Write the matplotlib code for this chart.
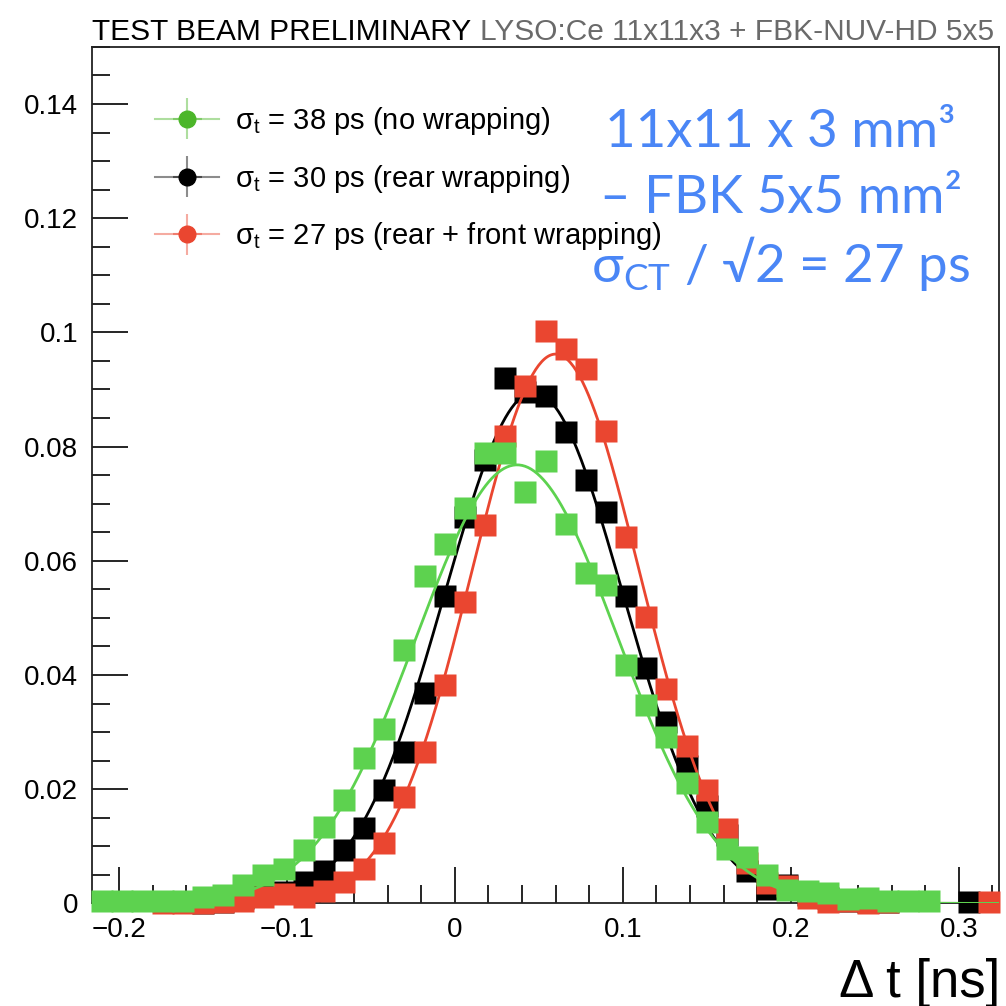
import numpy as np
import matplotlib
matplotlib.use("Agg")
import matplotlib.pyplot as plt
from matplotlib.ticker import MultipleLocator, FuncFormatter
from matplotlib.container import ErrorbarContainer
from matplotlib.legend_handler import HandlerErrorbar

plt.rcParams["font.family"] = ["Liberation Sans Narrow", "Liberation Sans", "DejaVu Sans"]
plt.rcParams["mathtext.default"] = "regular"

# 45 bins of 12 ps between -0.216 and 0.324 ns
x_lo, x_hi, n_bins = -0.216, 0.324, 45
edges = np.linspace(x_lo, x_hi, n_bins + 1)
dt = 0.5 * (edges[1:] + edges[:-1])

nan = np.nan
# bin contents (normalised counts)
no_wrap = [0.0005, 0.0005, 0.0005, 0.0005, 0.0005, 0.0012, 0.0015, 0.0033, 0.0050, 0.0060,
           0.0093, 0.0134, 0.0181, 0.0254, 0.0306, 0.0443, 0.0574, 0.0630, 0.0692, 0.0789,
           0.0788, 0.0721, 0.0774, 0.0665, 0.0578, 0.0557, 0.0417, 0.0347, 0.0292, 0.0210,
           0.0143, 0.0096, 0.0082, 0.0049, 0.0023, 0.0021, 0.0019, 0.0007, 0.0009, 0.0005,
           0.0005, 0.0005, nan, nan, nan]
rear_wrap = [nan, nan, nan, nan, nan, 0.0000, 0.0003, 0.0010, 0.0018, 0.0020,
             0.0038, 0.0057, 0.0093, 0.0132, 0.0199, 0.0266, 0.0369, 0.0539, 0.0677, 0.0777,
             0.0920, 0.0895, 0.0889, 0.0826, 0.0742, 0.0686, 0.0539, 0.0413, 0.0318, 0.0240,
             0.0170, 0.0119, 0.0056, 0.0026, 0.0033, 0.0015, 0.0010, 0.0005, 0.0003, 0.0003,
             nan, nan, nan, 0.0003, nan]
rear_front_wrap = [nan, nan, nan, 0.0000, 0.0000, 0.0000, 0.0003, 0.0005, 0.0012, 0.0017,
                   0.0012, 0.0021, 0.0038, 0.0061, 0.0105, 0.0187, 0.0266, 0.0383, 0.0528, 0.0662,
                   0.0819, 0.0906, 0.1003, 0.0971, 0.0936, 0.0828, 0.0642, 0.0502, 0.0376, 0.0275,
                   0.0198, 0.0131, 0.0070, 0.0035, 0.0030, 0.0010, 0.0003, 0.0005, 0.0001, 0.0003,
                   nan, nan, nan, nan, 0.0003]

# gaussian fit results (amplitude, mean [ns], sigma [ns])
fit_no_wrap = [0.0768, 0.037, 0.060]
fit_rear_wrap = [0.0895, 0.047, 0.053]
fit_rear_front_wrap = [0.0962, 0.060, 0.0497]

labels = ["σ$_t$ = 38 ps (no wrapping)",
          "σ$_t$ = 30 ps (rear wrapping)",
          "σ$_t$ = 27 ps (rear + front wrapping)"]

green, red, black = "#5dd24f", "#ea4630", "#000000"
leg_green = "#4cb62a"

fig = plt.figure(figsize=(10.06, 10.06), dpi=100)
ax = fig.add_axes([0.0915, 0.1020, 0.9016, 0.8514])

xf = np.linspace(x_lo, x_hi, 600)
series = [(rear_wrap, fit_rear_wrap, black, 2),
          (rear_front_wrap, fit_rear_front_wrap, red, 4),
          (no_wrap, fit_no_wrap, green, 6)]
for vals, (a, mu, s), c, z in series:
    ax.plot(xf, a * np.exp(-0.5 * ((xf - mu) / s) ** 2), color=c, lw=2.0, zorder=z)
    ax.plot(dt, vals, ls="none", marker="s", ms=15.5, mec="none", mfc=c,
            zorder=z + 1, clip_on=False)

# legend proxies (ROOT style: marker with error cross)
handles = []
for c in [leg_green, black, red]:
    rgba = matplotlib.colors.to_rgba(c, 0.45)
    h = ax.errorbar([nan], [nan], xerr=[1], yerr=[1], fmt="o-", color=rgba, ecolor=rgba,
                    mfc=c, mec=c, ms=12, lw=1.5, elinewidth=1.5)
    handles.append(h)
ax.legend(handles, labels, loc="upper left", bbox_to_anchor=(0.0695, 0.932),
          frameon=False, fontsize=21, handlelength=2.2, handletextpad=0.55,
          labelspacing=0.88, borderpad=0, borderaxespad=0,
          handler_map={ErrorbarContainer: HandlerErrorbar(xerr_size=0.5, yerr_size=0.7)})

ax.set_xlim(x_lo, x_hi)
ax.set_ylim(0, 0.15)
ax.xaxis.set_major_locator(MultipleLocator(0.1))
ax.xaxis.set_minor_locator(MultipleLocator(0.02))
ax.yaxis.set_major_locator(MultipleLocator(0.02))
ax.yaxis.set_minor_locator(MultipleLocator(0.005))
fmt = FuncFormatter(lambda v, p: ("%g" % round(v, 3)).replace("-", "\u2212"))
ax.xaxis.set_major_formatter(fmt)
ax.yaxis.set_major_formatter(fmt)
ax.tick_params(which="major", direction="in", length=26, width=1.2, labelsize=20, pad=10)
ax.tick_params(which="minor", direction="in", length=13, width=1.2)
for sp in ax.spines.values():
    sp.set_linewidth(1.3)
    sp.set_color("#222222")

t1 = fig.text(92 / 1006, 1 - 40 / 1006, "TEST BEAM PRELIMINARY", fontsize=21.5, va="baseline")
ax.annotate("LYSO:Ce 11x11x3 + FBK-NUV-HD 5x5", xy=(1, 0), xycoords=t1,
            xytext=(6, 0), textcoords="offset points", fontsize=21.5, color="#6a6a6a",
            va="bottom", annotation_clip=False)

fig.text(1000 / 1006, 1 - 997 / 1006, "Δ t [ns]", fontsize=38, ha="right", va="baseline")

blue = "#4a86f6"
fam = ["Lato", "DejaVu Sans"]
fig.text(0.776, 1 - 147 / 1006, "11x11 x 3 mm³", fontsize=38, color=blue,
         ha="center", va="baseline", family=fam)
fig.text(0.776, 1 - 213 / 1006, "– FBK 5x5 mm²", fontsize=38, color=blue,
         ha="center", va="baseline", family=fam)
fig.text(0.776, 1 - 282 / 1006, "σ$_{CT}$ / √2 = 27 ps", fontsize=38, color=blue,
         ha="center", va="baseline", family=fam)

fig.savefig("out.png", dpi=100)
